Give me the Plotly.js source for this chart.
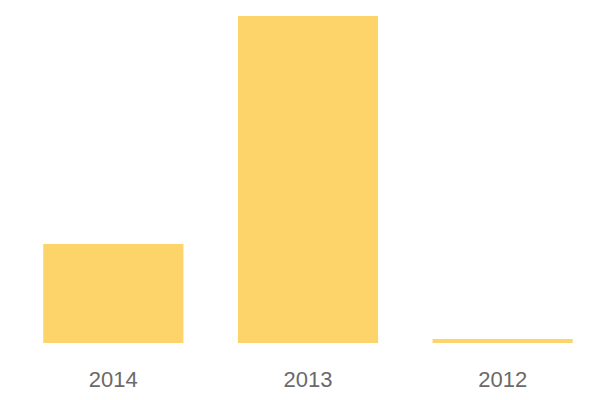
<!DOCTYPE html>
<html>
<head>
<meta charset="utf-8">
<script src="https://cdn.plot.ly/plotly-3.0.1.min.js"></script>
<style>html,body{margin:0;padding:0;background:#fff;}#chart{width:600px;height:400px;}</style>
</head>
<body>
<div id="chart"></div>
<script>
const years = ["2014", "2013", "2012"];
const values = [30.3, 100, 1.2];
const barColor = "#FDD46A";

const trace = {
  type: "bar",
  x: years,
  y: values,
  marker: { color: barColor },
  hoverinfo: "x+y"
};

const layout = {
  width: 600,
  height: 400,
  margin: { l: 16, r: 0, t: 16, b: 57, pad: 0 },
  paper_bgcolor: "#ffffff",
  plot_bgcolor: "#ffffff",
  bargap: 0.28,
  showlegend: false,
  xaxis: {
    type: "category",
    showgrid: false,
    zeroline: false,
    showline: false,
    ticks: "",
    ticklabelstandoff: 21,
    tickfont: { family: "Liberation Sans, Arial, sans-serif", size: 22, color: "#6a6a6a" }
  },
  yaxis: {
    range: [0, 100],
    showgrid: false,
    zeroline: false,
    showline: false,
    showticklabels: false,
    ticks: ""
  }
};

Plotly.newPlot("chart", [trace], layout, { displayModeBar: false, staticPlot: true });
</script>
</body>
</html>
